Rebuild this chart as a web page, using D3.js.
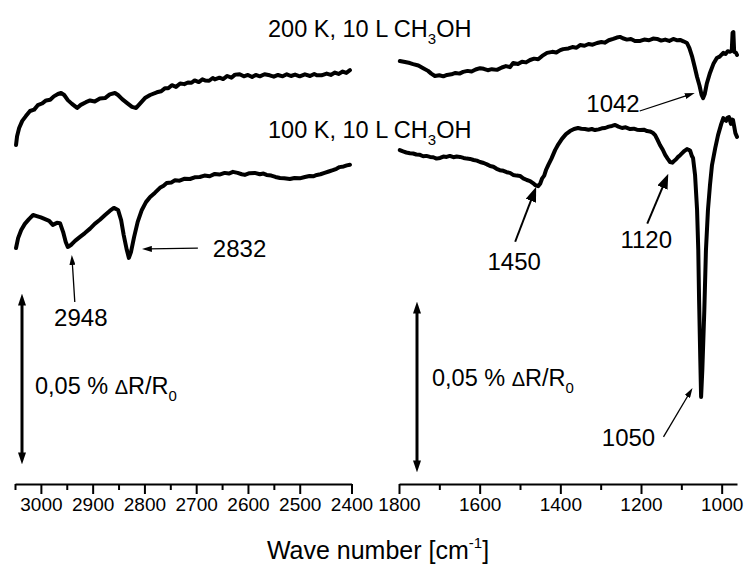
<!DOCTYPE html>
<html>
<head>
<meta charset="utf-8">
<script src="https://cdn.jsdelivr.net/npm/d3@7"></script>
<style>
  body { margin: 0; background: #fff; }
  svg text { font-family: "Liberation Sans", Arial, sans-serif; fill: #000; }
</style>
</head>
<body>
<script>
// spectra: wave number [cm-1] and reflectance change in units of 0.01 % dR/R0 (curves offset)
var wn200L = [3048,3046,3042,3036,3029,3021,3013,3006,2998,2990,2982,2975,2967,2961,2955,2948,2940,2930,2923,2913,2905,2896,2886,2876,2867,2857,2851,2843,2834,2824,2816,2809,2799,2789,2776,2768,2760,2754,2747,2739,2731,2723,2716,2709,2703,2695,2688,2683,2675,2668,2664,2655,2648,2640,2632,2625,2616,2608,2600,2592,2585,2577,2568,2558,2550,2542,2533,2525,2517,2509,2500,2490,2480,2472,2467,2458,2448,2440,2432,2425,2417,2410,2403];
var r200L  = [9.50,9.76,10.00,10.21,10.35,10.50,10.54,10.67,10.72,10.81,10.83,10.93,11.00,11.03,10.97,10.82,10.71,10.59,10.68,10.76,10.81,10.78,10.87,10.88,10.99,11.03,10.97,10.85,10.74,10.62,10.59,10.71,10.88,10.97,11.05,11.08,11.17,11.17,11.26,11.21,11.31,11.29,11.34,11.33,11.40,11.35,11.43,11.40,11.39,11.47,11.43,11.48,11.44,11.53,11.48,11.57,11.58,11.52,11.56,11.50,11.56,11.52,11.58,11.55,11.51,11.56,11.52,11.58,11.53,11.57,11.52,11.58,11.53,11.59,11.55,11.55,11.60,11.56,11.63,11.59,11.66,11.62,11.70];

var wn200R = [1798,1785,1773,1765,1752,1740,1728,1720,1711,1700,1690,1681,1670,1660,1650,1641,1630,1620,1610,1599,1590,1580,1570,1557,1545,1535,1525,1517,1505,1495,1485,1475,1465,1455,1445,1433,1420,1410,1400,1393,1380,1370,1360,1351,1340,1330,1320,1309,1298,1290,1280,1269,1260,1252,1245,1235,1225,1215,1202,1192,1180,1170,1160,1150,1140,1130,1120,1110,1103,1095,1086,1080,1073,1067,1061,1055,1050,1046,1042,1037,1029,1020,1012,1005,996,990,985,979,975,973,971,969,965,962];
var r200R  = [11.97,11.94,11.91,11.88,11.84,11.76,11.68,11.60,11.53,11.55,11.52,11.56,11.58,11.62,11.60,11.65,11.68,11.66,11.72,11.76,11.74,11.70,11.73,11.71,11.78,11.82,11.79,11.91,11.88,11.95,11.93,12.00,12.04,12.02,12.12,12.21,12.24,12.22,12.29,12.32,12.34,12.38,12.36,12.44,12.42,12.47,12.45,12.50,12.53,12.51,12.58,12.62,12.66,12.68,12.64,12.60,12.62,12.56,12.56,12.60,12.58,12.63,12.62,12.57,12.60,12.56,12.62,12.58,12.59,12.55,12.50,12.35,12.09,11.80,11.50,11.25,10.98,10.88,11.00,11.30,11.62,11.90,12.06,12.10,12.21,12.18,12.26,12.24,12.28,12.80,12.82,12.24,12.22,12.15];

var wn100L = [3048,3044,3038,3031,3023,3015,3008,3000,2992,2984,2977,2969,2963,2957,2952,2948,2942,2934,2925,2915,2905,2896,2886,2876,2867,2859,2851,2845,2840,2834,2830,2826,2820,2813,2805,2797,2789,2780,2770,2763,2757,2748,2741,2732,2722,2712,2703,2693,2684,2674,2664,2655,2645,2637,2629,2620,2612,2606,2597,2587,2577,2570,2564,2555,2547,2538,2530,2519,2510,2500,2490,2481,2474,2467,2460,2452,2444,2436,2429,2423,2415,2409,2403];
var r100L  = [6.47,6.76,7.00,7.18,7.32,7.44,7.41,7.37,7.32,7.27,7.15,7.21,7.20,6.94,6.65,6.50,6.56,6.68,6.79,6.91,7.04,7.18,7.30,7.44,7.56,7.65,7.59,7.29,6.85,6.41,6.18,6.35,6.79,7.24,7.59,7.82,7.97,8.09,8.24,8.30,8.38,8.40,8.46,8.45,8.51,8.50,8.55,8.56,8.60,8.58,8.65,8.63,8.68,8.66,8.71,8.68,8.64,8.62,8.67,8.68,8.64,8.66,8.62,8.60,8.56,8.53,8.52,8.50,8.53,8.52,8.56,8.59,8.58,8.62,8.64,8.68,8.72,8.76,8.80,8.85,8.87,8.90,8.92];

var wn100R = [1798,1790,1782,1773,1765,1757,1748,1740,1732,1723,1715,1707,1698,1690,1682,1674,1665,1657,1649,1640,1632,1624,1615,1607,1599,1590,1582,1574,1566,1558,1550,1541,1533,1525,1517,1508,1500,1492,1483,1475,1468,1462,1455,1450,1445,1440,1435,1430,1422,1413,1405,1396,1386,1376,1366,1356,1348,1339,1330,1322,1314,1305,1297,1289,1280,1272,1264,1256,1247,1238,1227,1218,1210,1202,1193,1185,1178,1171,1165,1159,1153,1146,1140,1134,1128,1122,1118,1113,1108,1103,1098,1092,1086,1082,1078,1074,1071,1066,1061,1058,1056,1053,1051,1048,1043,1039,1034,1029,1024,1016,1009,1001,996,993,989,986,982,979,977,975,972,969,966,962];
var r100R  = [9.35,9.31,9.28,9.26,9.25,9.22,9.21,9.17,9.18,9.15,9.14,9.10,9.12,9.16,9.15,9.18,9.14,9.16,9.15,9.12,9.10,9.09,9.06,9.04,9.00,8.97,8.93,8.88,8.86,8.80,8.76,8.74,8.70,8.68,8.62,8.60,8.59,8.52,8.47,8.44,8.38,8.32,8.29,8.36,8.52,8.60,8.78,8.91,9.10,9.35,9.52,9.68,9.82,9.91,9.97,10.00,9.98,9.97,9.95,9.97,9.94,9.96,9.99,10.00,10.04,10.06,10.09,10.04,10.00,10.02,9.97,9.98,9.95,9.94,9.95,9.91,9.90,9.86,9.79,9.65,9.50,9.36,9.21,9.10,9.00,8.98,9.03,9.08,9.15,9.20,9.26,9.33,9.38,9.36,9.33,9.18,9.12,8.62,7.59,6.41,4.94,3.18,2.09,2.88,4.65,6.41,7.59,8.32,8.91,9.41,9.79,10.12,10.29,10.24,10.21,10.30,10.32,10.20,10.12,10.25,10.24,10.05,9.85,9.74];

// axis ticks
var ticksLeft = [3000, 2900, 2800, 2700, 2600, 2500, 2400];
var minorLeft = [3050, 2950, 2850, 2750, 2650, 2550];
var ticksRight = [1800, 1600, 1400, 1200, 1000];
var minorRight = [1700, 1500, 1300, 1100];

// peak labels
var peakText = ["2948", "2832", "1450", "1120", "1042", "1050"];
var peakWn   = [2948, 2832, 1450, 1120, 1042, 1050];

var width = 745, height = 567, axisY = 484;

var svg = d3.select("body").append("svg")
    .attr("width", width)
    .attr("height", height);

var xL = d3.scaleLinear().domain([3050, 2400]).range([15, 351.5]);
var xR = d3.scaleLinear().domain([1800, 962]).range([399, 737]);
var y = d3.scaleLinear().domain([0, 5]).range([468, 298]);

var defs = svg.append("defs");
function makeMarker(id, len, wid) {
  defs.append("marker")
      .attr("id", id)
      .attr("markerUnits", "userSpaceOnUse")
      .attr("viewBox", "0 0 " + len + " " + wid)
      .attr("refX", len * 0.3)
      .attr("refY", wid / 2)
      .attr("markerWidth", len)
      .attr("markerHeight", wid)
      .attr("orient", "auto-start-reverse")
    .append("path")
      .attr("d", "M0,0L" + len + "," + (wid / 2) + "L0," + wid + "Z")
      .attr("fill", "#000");
}
makeMarker("thin", 10, 6);
makeMarker("bold", 15, 11);
makeMarker("bar", 12, 8);

// spectra
function drawCurve(scale, wn, r) {
  var line = d3.line()
      .x(function(d) { return scale(d[0]); })
      .y(function(d) { return y(d[1]); });
  svg.append("path")
      .datum(d3.zip(wn, r))
      .attr("d", line)
      .attr("fill", "none")
      .attr("stroke", "#000")
      .attr("stroke-width", 4)
      .attr("stroke-linejoin", "round")
      .attr("stroke-linecap", "round");
}
drawCurve(xL, wn200L, r200L);
drawCurve(xR, wn200R, r200R);
drawCurve(xL, wn100L, r100L);
drawCurve(xR, wn100R, r100R);

// axes
function drawAxis(scale, major, minor) {
  svg.append("g")
      .attr("transform", "translate(0," + axisY + ")")
      .call(d3.axisBottom(scale).tickValues(minor).tickSize(6).tickSizeOuter(0).tickFormat(""))
      .call(function(g) { g.select(".domain").remove(); })
      .selectAll("line").attr("stroke-width", 2);
  var g = svg.append("g")
      .attr("transform", "translate(0," + axisY + ")")
      .call(d3.axisBottom(scale).tickValues(major).tickSize(10).tickSizeOuter(0)
            .tickPadding(4).tickFormat(d3.format("d")));
  g.select(".domain").attr("stroke-width", 2.2);
  g.selectAll("line").attr("stroke-width", 2);
  g.selectAll("text")
      .attr("font-family", "Liberation Sans, Arial, sans-serif")
      .attr("font-size", 19);
}
drawAxis(xL, ticksLeft, minorLeft);
drawAxis(xR, ticksRight, minorRight);

// axis title
var title = svg.append("text")
    .attr("x", 378).attr("y", 559)
    .attr("text-anchor", "middle")
    .attr("font-size", 25);
title.append("tspan").text("Wave number [cm");
title.append("tspan").attr("font-size", 15).attr("dy", -11).text("-1");
title.append("tspan").attr("dy", 11).text("]");

// curve labels
function sampleLabel(temp, yb) {
  var t = svg.append("text").attr("x", 268).attr("y", yb).attr("font-size", 23.5);
  t.append("tspan").text(temp + ", 10 L CH");
  t.append("tspan").attr("font-size", 15).attr("dy", 7).text("3");
  t.append("tspan").attr("dy", -7).text("OH");
}
sampleLabel("200 K", 37);
sampleLabel("100 K", 138);

// scale bars 0,05 %
function scaleBar(xp, shift, tx, ty) {
  svg.append("line")
      .attr("x1", xp).attr("x2", xp)
      .attr("y1", y(0) + shift - 8).attr("y2", y(5) + shift + 8)
      .attr("stroke", "#000").attr("stroke-width", 3)
      .attr("marker-start", "url(#bar)")
      .attr("marker-end", "url(#bar)");
  var t = svg.append("text").attr("x", tx).attr("y", ty).attr("font-size", 23.5);
  t.append("tspan").text("0,05 % ");
  t.append("tspan").attr("font-size", 20).text("\u0394");
  t.append("tspan").text("R/R");
  t.append("tspan").attr("font-size", 15).attr("dy", 7).text("0");
}
scaleBar(22, -4, 35, 394);
scaleBar(417, 4, 432, 386);

// peak annotations: tip offset from the peak point, tail and text relative to tip
var peakSeries = [[xL, wn100L, r100L], [xL, wn100L, r100L], [xR, wn100R, r100R],
                  [xR, wn100R, r100R], [xR, wn200R, r200R], [xR, wn100R, r100R]];
var tipOff  = [[4, 8], [14, -1], [-4, 3], [-5, 11], [-10, -1], [-9, -9]];
var tailOff = [[3, 47], [56, -1], [-21, 55], [-21, 50], [-55, 18], [-29, 49]];
var textOff = [[9, 71], [71, 8], [-22, 83], [-22, 74], [-55, 19], [-64, 58]];
var textAnchor = ["middle", "start", "middle", "middle", "end", "middle"];
var markerType = ["thin", "thin", "bold", "bold", "thin", "thin"];

peakText.forEach(function(label, i) {
  var s = peakSeries[i];
  var k = d3.leastIndex(s[1], function(w) { return Math.abs(w - peakWn[i]); });
  var tx = s[0](peakWn[i]) + tipOff[i][0];
  var ty = y(s[2][k]) + tipOff[i][1];
  var ax = tx + tailOff[i][0], ay = ty + tailOff[i][1];
  var len = Math.hypot(tx - ax, ty - ay);
  var head = markerType[i] === "bold" ? 15 : 10;
  var f = (len - head * 0.7) / len;
  svg.append("line")
      .attr("x1", ax).attr("y1", ay)
      .attr("x2", ax + (tx - ax) * f).attr("y2", ay + (ty - ay) * f)
      .attr("stroke", "#000")
      .attr("stroke-width", markerType[i] === "bold" ? 2 : 1.3)
      .attr("marker-end", "url(#" + markerType[i] + ")");
  svg.append("text")
      .attr("x", tx + textOff[i][0])
      .attr("y", ty + textOff[i][1])
      .attr("text-anchor", textAnchor[i])
      .attr("font-size", 24)
      .text(label);
});
</script>
</body>
</html>
